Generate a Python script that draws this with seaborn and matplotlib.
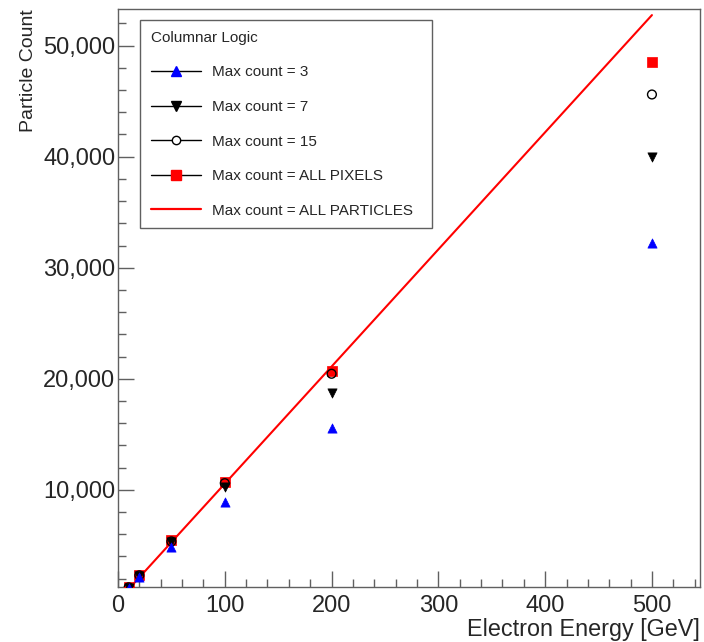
import matplotlib
matplotlib.use("Agg")
import matplotlib.pyplot as plt
from matplotlib.lines import Line2D
from matplotlib.ticker import FuncFormatter, MultipleLocator
import pandas as pd
import seaborn as sns

# ── data ──
energy = [10, 20, 50, 100, 200, 500]
count_max3 = [1150, 2150, 4850, 8900, 15600, 32200]
count_max7 = [1200, 2250, 5300, 10250, 18750, 40000]
count_max15 = [1220, 2300, 5350, 10600, 20450, 45600]
count_all_pixels = [1250, 2340, 5450, 10720, 20720, 48550]
count_all_particles = [1060, 2110, 5280, 10550, 21100, 52750]

labels = [
    "Max count = 3",
    "Max count = 7",
    "Max count = 15",
    "Max count = ALL PIXELS",
    "Max count = ALL PARTICLES",
]

sns.set_style("ticks")
plt.rcParams["font.family"] = ["Liberation Sans", "DejaVu Sans"]

fig = plt.figure(figsize=(7.04, 6.42), dpi=100)
ax = fig.add_axes([0.1676, 0.0857, 0.8267, 0.9003])

# red reference line (all particles)
line_df = pd.DataFrame({"E": energy, "N": count_all_particles})
sns.lineplot(data=line_df, x="E", y="N", ax=ax, color="#ff0000", lw=1.5,
             legend=False)

# point series, drawn bottom to top like the original
styles = [
    (count_all_pixels, "s", "#ff0000", "#ff0000", 52, 0.5),
    (count_max15, "o", "none", "black", 40, 1.0),
    (count_max7, "v", "black", "black", 44, 0.5),
    (count_max3, "^", "#0000ff", "#0000ff", 44, 0.5),
]
for i, (vals, mk, fc, ec, sz, lw) in enumerate(styles):
    df = pd.DataFrame({"E": energy, "N": vals})
    sns.scatterplot(data=df, x="E", y="N", ax=ax, marker=mk, s=sz,
                    facecolor=fc, edgecolor=ec, linewidth=lw, legend=False,
                    zorder=3 + i)

ax.set_xlim(0, 545)
ax.set_ylim(1250, 53300)
ax.xaxis.set_major_locator(MultipleLocator(100))
ax.xaxis.set_minor_locator(MultipleLocator(20))
ax.yaxis.set_major_locator(MultipleLocator(10000))
ax.yaxis.set_minor_locator(MultipleLocator(2000))
ax.yaxis.set_major_formatter(FuncFormatter(lambda v, p: f"{int(v):,}"))

frame_col = "#606060"
for sp in ax.spines.values():
    sp.set_color(frame_col)
    sp.set_linewidth(1.0)
ax.tick_params(which="both", direction="in", color=frame_col, labelsize=17)
ax.tick_params(which="major", length=11.5, width=1.0)
ax.tick_params(which="minor", length=6, width=1.0)
ax.tick_params(axis="x", pad=6)
ax.tick_params(axis="y", pad=2)

ax.set_xlabel("Electron Energy [GeV]", fontsize=16.8, loc="right")
ax.set_ylabel("Particle Count", fontsize=14, loc="top")
ax.xaxis.set_label_coords(1.0, -0.053)
ax.yaxis.set_label_coords(-0.139, 1.0)

# legend (ROOT-like: line through the marker)
handles = [
    Line2D([], [], color="black", lw=1.0, marker="^", markersize=6.5,
           markerfacecolor="#0000ff", markeredgecolor="#0000ff"),
    Line2D([], [], color="black", lw=1.0, marker="v", markersize=6.5,
           markerfacecolor="black", markeredgecolor="black"),
    Line2D([], [], color="black", lw=1.0, marker="o", markersize=6,
           markerfacecolor="white", markeredgecolor="black"),
    Line2D([], [], color="black", lw=1.0, marker="s", markersize=7.5,
           markerfacecolor="#ff0000", markeredgecolor="#ff0000"),
    Line2D([], [], color="#ff0000", lw=1.6),
]
leg = ax.legend(handles, labels, title="Columnar Logic",
                loc="upper left", bbox_to_anchor=(0.038, 0.606, 0.502, 0.375),
                mode="expand", borderaxespad=0, fontsize=11, title_fontsize=11,
                handlelength=3.3, handletextpad=0.7, labelspacing=1.35,
                borderpad=0.7, fancybox=False, framealpha=1,
                edgecolor=frame_col)
leg.get_frame().set_linewidth(1.0)
leg._legend_box.align = "left"

fig.savefig("out.png", dpi=100)
